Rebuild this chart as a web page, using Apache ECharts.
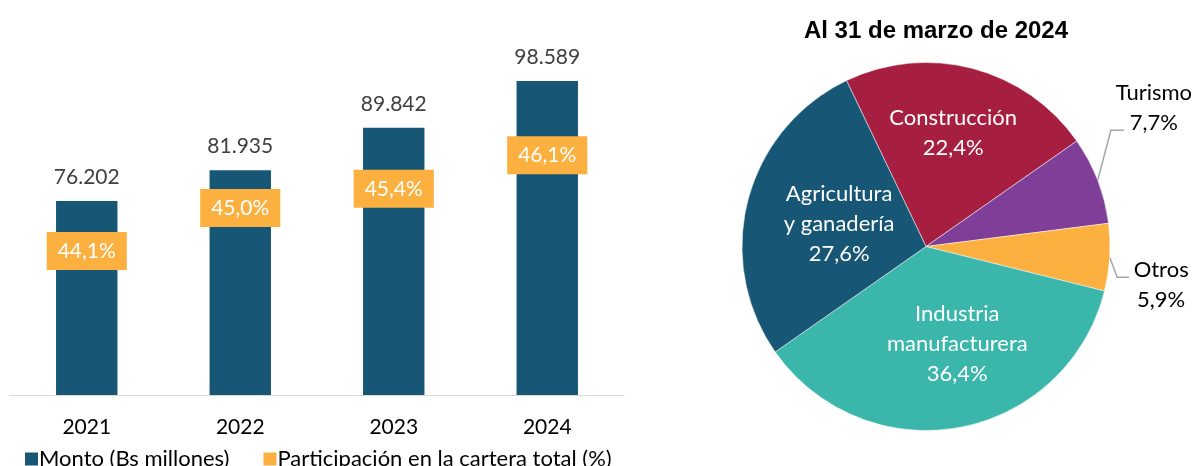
<!DOCTYPE html>
<html>
<head>
<meta charset="utf-8">
<script src="https://cdn.jsdelivr.net/npm/echarts@6/dist/echarts.min.js"></script>
<style>
  html, body { margin: 0; padding: 0; background: #fff; }
  #app { width: 1195px; height: 466px; }
</style>
</head>
<body>
<div id="app"></div>
<script>
var years = ['2021', '2022', '2023', '2024'];
var monto = [76.202, 81.935, 89.842, 98.589];
var participacion = [44.1, 45.0, 45.4, 46.1];

var sectores = ['Construcción', 'Turismo', 'Otros', 'Industria\nmanufacturera', 'Agricultura\ny ganadería'];
var sectorPct = [22.4, 7.7, 5.9, 36.4, 27.6];
var sectorColors = ['#A61E40', '#7F3F98', '#FBB040', '#3BB6AB', '#175674'];

var FONT = 'Lato';

// nudges for the slice labels, same order as sectores
var labelNudge = [[3, -22], [-12, -67], [-7, 27], [14, 4], [5, 2]];
// leader line bend / end, relative to the label centre (outside labels only)
var leaderBend = { 1: [[-43, 22], [-30, 22]], 2: [[-44, -8], [-32, -8]] };

function comma(v, d) {
    return v.toFixed(d).replace('.', ',');
}

var pieData = sectores.map(function (name, i) {
    var outside = sectorPct[i] < 10;
    return {
        name: name,
        value: sectorPct[i],
        itemStyle: { color: sectorColors[i] },
        label: {
            position: outside ? 'outside' : 'inside',
            color: outside ? '#000' : '#fff'
        },
        labelLine: { show: outside }
    };
});

var option = {
    animation: false,
    textStyle: { fontFamily: FONT },
    title: {
        text: 'Al 31 de marzo de 2024',
        left: 931,
        top: 14,
        textAlign: 'center',
        textStyle: {
            fontFamily: 'Liberation Sans',
            fontWeight: 'bold',
            fontSize: 24,
            color: '#000'
        }
    },
    legend: {
        left: 20,
        top: 443,
        icon: 'rect',
        itemWidth: 13,
        itemHeight: 13,
        itemGap: 34,
        textStyle: { fontFamily: FONT, fontSize: 22, color: '#000', padding: [0, 0, 0, -4] },
        data: ['Monto (Bs millones)', 'Participación en la cartera total (%)']
    },
    grid: {
        left: 10,
        right: 571,
        top: 73.4,
        bottom: 71
    },
    xAxis: {
        type: 'category',
        data: years,
        axisTick: { show: false },
        axisLine: { lineStyle: { color: '#d9d9d9', width: 1 } },
        axisLabel: { fontFamily: FONT, fontSize: 21, color: '#000', margin: 22 }
    },
    yAxis: [{
        type: 'value',
        min: 40,
        max: 100,
        show: false
    }, {
        type: 'value',
        min: 41.09,
        max: 47.81,
        show: false
    }],
    series: [{
        name: 'Monto (Bs millones)',
        type: 'bar',
        data: monto,
        barWidth: '40%',
        itemStyle: { color: '#175674' },
        label: {
            show: true,
            position: 'top',
            distance: 13,
            fontFamily: FONT,
            fontSize: 21,
            color: '#404040',
            formatter: function (p) { return p.value.toFixed(3); }
        }
    }, {
        name: 'Participación en la cartera total (%)',
        type: 'scatter',
        yAxisIndex: 1,
        data: participacion,
        symbolSize: 0.1,
        itemStyle: { color: '#FBB040', opacity: 1 },
        label: {
            show: true,
            position: 'inside',
            backgroundColor: '#FBB040',
            padding: [8, 11],
            lineHeight: 22,
            fontFamily: FONT,
            fontSize: 21,
            color: '#fff',
            formatter: function (p) { return comma(p.value, 1) + '%'; }
        },
        z: 3
    }, {
        type: 'pie',
        center: [926, 246.5],
        radius: 184,
        startAngle: 115.6,
        clockwise: true,
        itemStyle: { borderColor: '#fff', borderWidth: 0.5 },
        label: {
            fontFamily: FONT,
            fontSize: 22,
            lineHeight: 30,
            align: 'center',
            verticalAlign: 'middle',
            overflow: 'none',
            formatter: function (p) { return p.name + '\n' + comma(p.value, 1) + '%'; }
        },
        labelLine: {
            length: 14,
            length2: 12,
            lineStyle: { color: '#a6a6a6', width: 1.5 }
        },
        labelLayout: function (params) {
            var n = labelNudge[params.dataIndex];
            var r = params.labelRect;
            var cx = r.x + r.width / 2 + n[0];
            var cy = r.y + r.height / 2 + n[1];
            var out = { x: cx, y: cy, align: 'center', verticalAlign: 'middle' };
            var lb = leaderBend[params.dataIndex];
            if (lb && params.labelLinePoints) {
                out.labelLinePoints = [
                    params.labelLinePoints[0],
                    [cx + lb[0][0], cy + lb[0][1]],
                    [cx + lb[1][0], cy + lb[1][1]]
                ];
            }
            return out;
        },
        data: pieData
    }]
};

var myChart = echarts.init(document.getElementById('app'));
myChart.setOption(option);
</script>
</body>
</html>
